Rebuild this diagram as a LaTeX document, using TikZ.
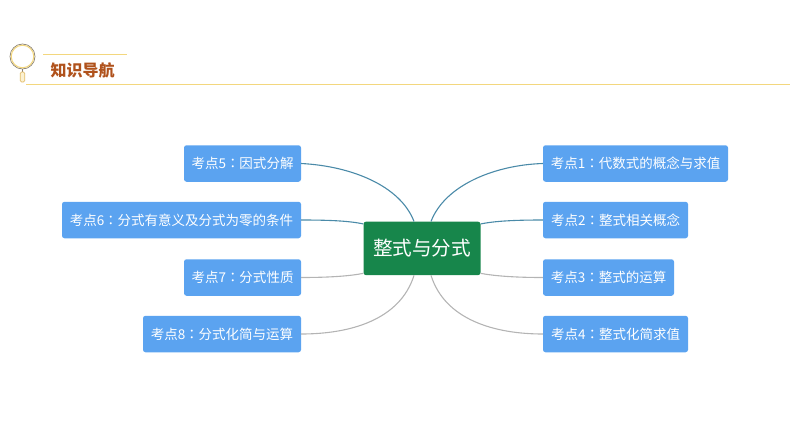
\documentclass[tikz,border=0pt]{standalone}
\usepackage{fontspec}
\setmainfont{Noto Sans CJK SC}
\newfontfamily\tcfont{Noto Sans CJK TC}
\newcommand{\cc}{{\tcfont ：}}
\definecolor{boxblue}{HTML}{5BA3F0}
\definecolor{rootgreen}{HTML}{17864B}
\definecolor{linkblue}{HTML}{4A8AA8}
\definecolor{linkgrey}{HTML}{B4B4B4}
\definecolor{gold}{HTML}{F3D77E}
\definecolor{brownink}{HTML}{B0521C}
\definecolor{ringgrey}{HTML}{8A8070}
\tikzset{
 topicbox/.style={fill=boxblue,rounded corners=2.5pt,text=white,font=\fontsize{13.5}{13.5}\selectfont,inner sep=0pt,minimum height=36.5pt},
 rootbox/.style={fill=rootgreen,rounded corners=2.5pt,text=white,font=\fontsize{19.6}{20}\selectfont,inner sep=0pt,minimum width=117pt,minimum height=53.5pt},
 bluelink/.style={draw=linkblue,line width=1.1pt},
 greylink/.style={draw=linkgrey,line width=1.1pt},
 rule/.style={draw=gold,line width=1.2pt}
}
\begin{document}
\begin{tikzpicture}[x=1pt,y=-1pt]
\useasboundingbox (0,0) rectangle (794,447);
% header
\draw[draw=ringgrey,line width=0.7pt,fill=white] (22.5,56.5) circle (12.5);
\draw[draw=gold,line width=1pt] (22.5,56.5) circle (11.3);
\draw[draw=ringgrey,line width=0.6pt] (22.5,69) -- (22.5,72);
\draw[draw=gold!70!brown,line width=0.7pt,fill=gold!35,rounded corners=1.5pt] (20.2,72) rectangle (24.8,82);
\coordinate (t1) at (43,54.7);
\coordinate (t2) at (127,54.7);
\coordinate (b1) at (26,84.3);
\coordinate (b2) at (790,84.3);
\draw[rule] (t1) -- (t2);
\draw[rule] (b1) -- (b2);
\node[text=brownink,font=\fontsize{16}{16}\selectfont\bfseries,inner sep=0pt,anchor=center] (title) at (82.5,70) {知识导航};
% nodes
\node[rootbox] (root) at (422,248.4) {\raisebox{-1.2pt}{整式与分式}};
\node[topicbox,minimum width=117pt] (k5) at (242.5,163.5) {考点5\cc 因式分解};
\node[topicbox,minimum width=239pt] (k6) at (181.5,220) {考点6\cc 分式有意义及分式为零的条件};
\node[topicbox,minimum width=117pt] (k7) at (242.5,277.5) {考点7\cc 分式性质};
\node[topicbox,minimum width=158pt] (k8) at (222,334) {考点8\cc 分式化简与运算};
\node[topicbox,minimum width=185pt] (k1) at (635.5,163.5) {考点1\cc 代数式的概念与求值};
\node[topicbox,minimum width=145pt] (k2) at (615.5,220) {考点2\cc 整式相关概念};
\node[topicbox,minimum width=131pt] (k3) at (608.5,277.5) {考点3\cc 整式的运算};
\node[topicbox,minimum width=145pt] (k4) at (615.5,334) {考点4\cc 整式化简求值};
% connectors
\draw[bluelink] (k5.east) .. controls (350,166) and (400,185) .. (root.north -| 414,0);
\draw[bluelink] (k6.east) .. controls (330,220) and (350,221) .. ([yshift=-2.5pt]root.north west);
\draw[greylink] (k7.east) .. controls (330,277.5) and (350,276) .. ([yshift=2pt]root.south west);
\draw[greylink] (k8.east) .. controls (350,334) and (400,320) .. (root.south -| 414,0);
\draw[bluelink] (k1.west) .. controls (495,165) and (445,185) .. (root.north -| 431,0);
\draw[bluelink] (k2.west) .. controls (515,220) and (495,221) .. ([yshift=-2.5pt]root.north east);
\draw[greylink] (k3.west) .. controls (515,277.5) and (495,276) .. ([yshift=2pt]root.south east);
\draw[greylink] (k4.west) .. controls (495,334) and (445,320) .. (root.south -| 431,0);
\end{tikzpicture}
\end{document}
